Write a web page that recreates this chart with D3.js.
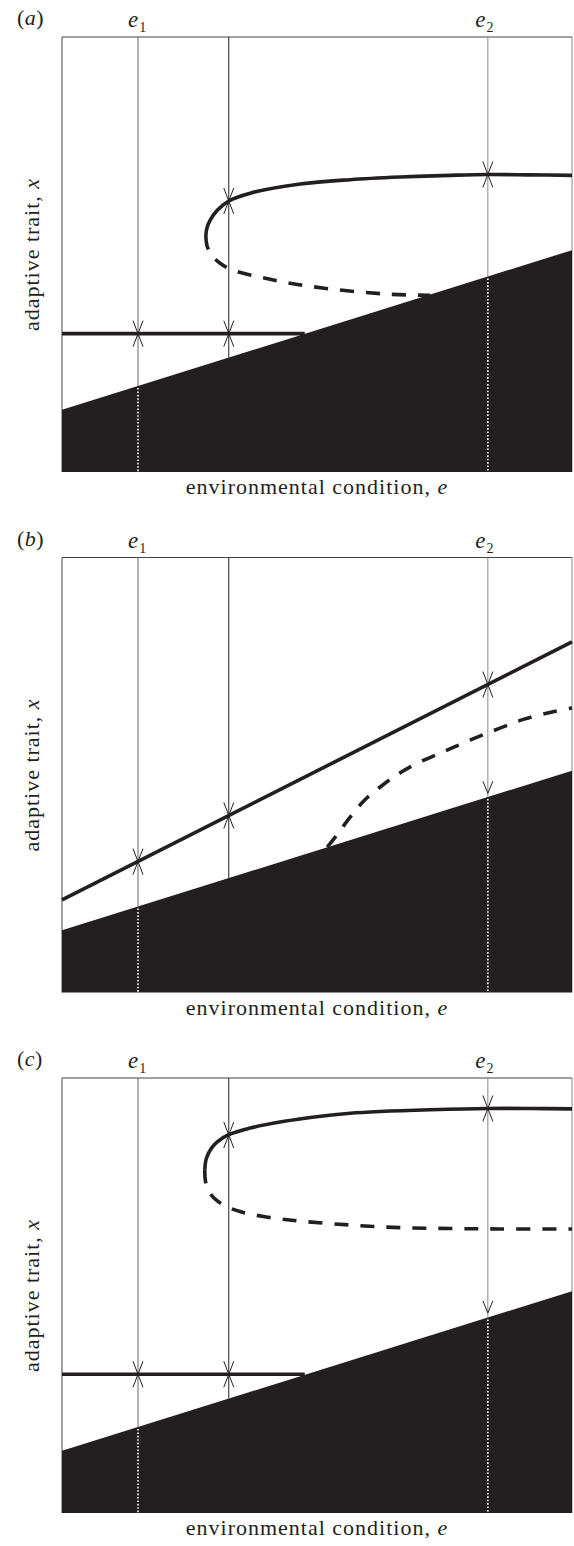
<!DOCTYPE html>
<html><head><meta charset="utf-8">
<script src="https://cdn.jsdelivr.net/npm/d3@7"></script>
<style>
html,body{margin:0;padding:0;background:#fff;}
svg{display:block;}
text{font-family:"Liberation Serif","Times New Roman",serif;fill:#231f20;}
</style></head>
<body>
<script>
// ---------- data ----------
const panelNames = ["(a)", "(b)", "(c)"];
const xLabel = "environmental condition, ";
const yLabel = "adaptive trait, ";
const tickValues = [1.49, 8.35];        // e1, e2
const tickSubs = ["1", "2"];
const midLine = 3.27;                   // unlabelled vertical line
// lower boundary of viable trait (black region), same in all panels
const boundary = [[0, 1.43], [10, 5.10]];

// panel (a)
const aLow = [[0, 3.18], [4.76, 3.18]];
const aUpperSolid = [[2.82,5.43],[2.84,5.60],[2.90,5.78],[3.04,6.01],[3.27,6.23],[3.69,6.41],[4.67,6.62],[5.65,6.72],[6.63,6.78],[7.61,6.82],[8.35,6.84],[9.18,6.83],[10,6.82]];
const aUpperDash = [[2.82,5.43],[2.84,5.22],[2.92,5.01],[3.10,4.80],[3.35,4.64],[3.88,4.48],[4.47,4.34],[5.25,4.21],[6.37,4.09],[7.22,4.06]];
// panel (b)
const bSolid = [[0, 2.13], [10, 8.06]];
const bDash = [[5.20,3.34],[5.39,3.62],[5.65,4.03],[5.94,4.43],[6.29,4.77],[6.63,5.05],[7.02,5.30],[7.51,5.55],[8.00,5.80],[8.55,6.06],[9.08,6.29],[9.61,6.45],[10,6.54]];
// panel (c)
const cLow = [[0, 3.19], [4.76, 3.19]];
const cUpperSolid = [[2.80,7.90],[2.83,8.15],[2.92,8.37],[3.05,8.54],[3.26,8.69],[3.69,8.85],[4.33,9.00],[4.99,9.11],[5.65,9.19],[6.24,9.23],[7.22,9.27],[8.34,9.30],[9.18,9.30],[10,9.29]];
const cUpperDash = [[2.80,7.90],[2.81,7.65],[2.87,7.42],[2.98,7.24],[3.18,7.07],[3.49,6.93],[3.98,6.81],[4.67,6.71],[5.65,6.62],[6.63,6.56],[7.61,6.54],[8.59,6.53],[10,6.53]];

// stable points (converging arrows) and downward arrows per panel
const aStable = [[1.49,3.18],[3.27,3.18],[3.27,6.23],[8.35,6.84]];
const bStable = [[1.49,3.01],[3.27,4.07],[8.35,7.08]];
const cStable = [[1.49,3.19],[3.27,3.19],[3.27,8.69],[8.35,9.30]];
const bDown = [[8.35,4.58]];
const cDown = [[8.35,4.60]];

const panels = [
  {name: panelNames[0], solids:[aLow,aUpperSolid], dashes:[aUpperDash], stable:aStable, down:[]},
  {name: panelNames[1], solids:[bSolid], dashes:[bDash], stable:bStable, down:bDown},
  {name: panelNames[2], solids:[cLow,cUpperSolid], dashes:[cUpperDash], stable:cStable, down:cDown}
];

// ---------- layout ----------
const W = 574, H = 1546;
const left = 62, right = 572, ph = 435;
const tops = [37, 557.5, 1078];
const FILL = "#231f20";

const svg = d3.select("body").append("svg").attr("width", W).attr("height", H);

const x = d3.scaleLinear().domain([0, 10]).range([left, right]);

function boundaryAt(e){
  const [a,b] = boundary;
  return a[1] + (b[1]-a[1])*(e-a[0])/(b[0]-a[0]);
}

panels.forEach((p, i) => {
  const top = tops[i], bottom = top + ph;
  const y = d3.scaleLinear().domain([0, 10]).range([bottom, top]);
  const g = svg.append("g");

  // frame
  g.append("line").attr("x1", left).attr("x2", right).attr("y1", top).attr("y2", top)
    .attr("stroke", "#444").attr("stroke-width", 1);
  g.append("line").attr("x1", left).attr("x2", left).attr("y1", top).attr("y2", bottom)
    .attr("stroke", "#444").attr("stroke-width", 1);
  g.append("line").attr("x1", right).attr("x2", right).attr("y1", top).attr("y2", bottom)
    .attr("stroke", "#888").attr("stroke-width", 1);

  // black region
  const area = d3.area().x(d => x(d[0])).y0(bottom).y1(d => y(d[1]));
  g.append("path").datum(boundary).attr("d", area).attr("fill", FILL);

  // vertical lines
  const vlines = [
    {e: tickValues[0], color: "#666", dotted: true},
    {e: midLine, color: "#222", dotted: false},
    {e: tickValues[1], color: "#888", dotted: true}
  ];
  vlines.forEach(v => {
    g.append("line").attr("x1", x(v.e)).attr("x2", x(v.e))
      .attr("y1", top).attr("y2", y(boundaryAt(v.e)))
      .attr("stroke", v.color).attr("stroke-width", 1);
    if (v.dotted) {
      g.append("line").attr("x1", x(v.e)).attr("x2", x(v.e))
        .attr("y1", y(boundaryAt(v.e)) + 2).attr("y2", bottom)
        .attr("stroke", "#fff").attr("stroke-width", 1.6)
        .attr("stroke-dasharray", "1.6,1.8");
    }
  });

  const lineS = d3.line().x(d => x(d[0])).y(d => y(d[1])).curve(d3.curveCatmullRom.alpha(0.5));

  p.solids.forEach(s => {
    g.append("path").datum(s).attr("d", lineS).attr("fill", "none")
      .attr("stroke", FILL).attr("stroke-width", 3.6);
  });
  p.dashes.forEach(s => {
    g.append("path").datum(s).attr("d", lineS).attr("fill", "none")
      .attr("stroke", FILL).attr("stroke-width", 3.6)
      .attr("stroke-dasharray", "14,12");
  });

  // converging arrows
  p.stable.forEach(s => {
    const cx = x(s[0]), cy = y(s[1]);
    g.append("path")
      .attr("d", `M${cx-5},${cy-13}L${cx},${cy}L${cx+5},${cy-13}M${cx-5},${cy+13}L${cx},${cy}L${cx+5},${cy+13}`)
      .attr("fill", "none").attr("stroke", "#231f20").attr("stroke-width", 1);
  });
  p.down.forEach(s => {
    const cx = x(s[0]), cy = y(s[1]);
    g.append("path")
      .attr("d", `M${cx-5},${cy-12}L${cx},${cy}L${cx+5},${cy-12}`)
      .attr("fill", "none").attr("stroke", "#231f20").attr("stroke-width", 1);
  });

  // panel label
  const pl = g.append("text").attr("x", 17).attr("y", top - 12).attr("font-size", 22).attr("letter-spacing", 0.5);
  pl.append("tspan").text("(");
  pl.append("tspan").attr("font-style", "italic").text(p.name.slice(1, -1));
  pl.append("tspan").text(")");

  // e1, e2 labels
  tickValues.forEach((tv, k) => {
    const t = g.append("text").attr("x", x(tv) - (k === 0 ? 10 : 12.5)).attr("y", top - 10).attr("font-size", 23);
    t.append("tspan").attr("font-style", "italic").text("e");
    t.append("tspan").attr("font-size", 14).attr("dy", 5).attr("dx", 1).text(tickSubs[k]);
  });

  // x label
  const xl = g.append("text").attr("x", (left + right) / 2).attr("y", bottom + 22)
    .attr("text-anchor", "middle").attr("font-size", 22).attr("letter-spacing", 1);
  xl.append("tspan").text(xLabel);
  xl.append("tspan").attr("font-style", "italic").text("e");

  // y label
  const yl = g.append("text").attr("transform", `translate(39,${(top + bottom) / 2}) rotate(-90)`)
    .attr("text-anchor", "middle").attr("font-size", 22).attr("letter-spacing", 1);
  yl.append("tspan").text(yLabel);
  yl.append("tspan").attr("font-style", "italic").text("x");
});
</script>
</body></html>
